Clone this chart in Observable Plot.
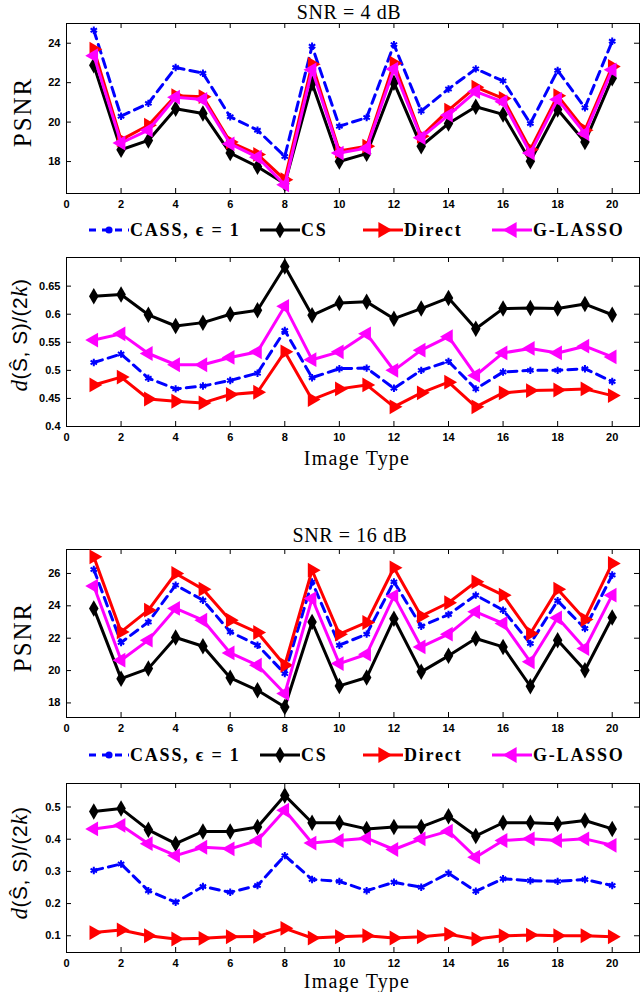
<!DOCTYPE html>
<html><head><meta charset="utf-8">
<script src="https://cdn.jsdelivr.net/npm/d3@7"></script>
<script src="https://cdn.jsdelivr.net/npm/@observablehq/plot@0.6"></script>
<style>
body{margin:0;background:#fff;}
#root{position:relative;width:640px;height:992px;overflow:hidden;}
.abs{position:absolute;white-space:nowrap;line-height:1;}
.title{font-family:"Liberation Serif",serif;font-size:20px;transform:translate(-50%,-50%);letter-spacing:0.6px;}
.xlab{font-family:"Liberation Serif",serif;font-size:20px;transform:translate(-50%,-50%);letter-spacing:1.2px;}
.ylab{font-family:"Liberation Serif",serif;font-size:25px;transform:translate(-50%,-50%) rotate(-90deg);letter-spacing:2px;}
.dlab{font-family:"Liberation Sans",sans-serif;font-size:21px;transform:translate(-50%,-50%) rotate(-90deg);letter-spacing:0.5px;}
.dlab i{font-family:"Liberation Serif",serif;font-size:23px;}
.leg{display:flex;align-items:center;font-family:"Liberation Serif",serif;font-weight:bold;font-size:18px;letter-spacing:1.8px;transform:translateY(-50%);}
.leg svg{display:block;}
</style></head><body><div id="root"></div>
<script>
// ---------- data ----------
const imageType = [1,2,3,4,5,6,7,8,9,10,11,12,13,14,15,16,17,18,19,20];
const xTicks = [0,2,4,6,8,10,12,14,16,18,20];

// SNR = 4 dB, PSNR
const psnr4_cass   = [24.66,20.3,20.95,22.77,22.48,20.27,19.59,18.26,23.85,19.79,20.23,23.93,20.56,21.68,22.7,22.09,19.93,22.62,20.73,24.1];
const psnr4_cs     = [22.88,18.6,19.07,20.68,20.44,18.43,17.74,16.87,21.97,18.0,18.4,22.0,18.78,19.93,20.78,20.39,18.02,20.64,18.99,22.23];
const psnr4_direct = [23.7,19.1,19.84,21.34,21.29,18.99,18.36,17.08,22.94,18.53,18.78,22.99,19.28,20.61,21.77,21.2,18.61,21.34,19.59,22.82];
const psnr4_glasso = [23.37,18.94,19.59,21.26,21.15,18.9,18.22,16.82,22.65,18.43,18.68,22.69,19.21,20.35,21.55,21.03,18.43,21.15,19.42,22.65];
const psnr4_yTicks = [18,20,22,24];

// SNR = 4 dB, d(S^,S)/(2k)
const d4_cass   = [0.514,0.529,0.486,0.467,0.472,0.482,0.495,0.571,0.487,0.503,0.504,0.468,0.5,0.516,0.467,0.497,0.5,0.5,0.503,0.48];
const d4_cs     = [0.632,0.635,0.599,0.579,0.585,0.6,0.607,0.685,0.598,0.62,0.622,0.592,0.61,0.629,0.574,0.61,0.611,0.61,0.618,0.599];
const d4_direct = [0.474,0.488,0.449,0.445,0.442,0.457,0.461,0.533,0.448,0.467,0.474,0.435,0.46,0.479,0.435,0.46,0.464,0.465,0.467,0.455];
const d4_glasso = [0.554,0.565,0.53,0.51,0.51,0.523,0.533,0.614,0.519,0.533,0.565,0.5,0.536,0.56,0.491,0.531,0.539,0.531,0.543,0.524];
const d4_yTicks = [0.4,0.45,0.5,0.55,0.6,0.65];

// SNR = 16 dB, PSNR
const psnr16_cass   = [26.25,21.73,23.0,25.28,24.35,22.39,21.57,19.81,25.48,21.57,22.25,25.48,22.74,23.46,24.66,23.73,21.67,24.31,22.6,25.9];
const psnr16_cs     = [23.84,19.5,20.12,22.04,21.5,19.55,18.78,17.75,23.0,19.05,19.57,23.2,19.92,20.91,21.98,21.46,19.03,21.88,20.02,23.28];
const psnr16_direct = [27.03,22.39,23.73,26.0,25.03,23.11,22.35,20.33,26.2,22.25,22.97,26.35,23.36,24.19,25.48,24.66,22.29,25.03,23.15,26.62];
const psnr16_glasso = [25.22,20.64,21.88,23.84,23.11,21.09,20.33,18.58,24.45,20.43,21.01,24.6,21.46,22.25,23.63,22.91,20.54,23.26,21.36,24.66];
const psnr16_yTicks = [18,20,22,24,26];

// SNR = 16 dB, d(S^,S)/(2k)
const d16_cass   = [0.303,0.323,0.24,0.204,0.253,0.235,0.256,0.349,0.275,0.269,0.24,0.266,0.251,0.294,0.238,0.277,0.271,0.269,0.275,0.256];
const d16_cs     = [0.486,0.495,0.429,0.386,0.424,0.424,0.438,0.536,0.451,0.451,0.432,0.438,0.438,0.471,0.41,0.451,0.451,0.448,0.458,0.432];
const d16_direct = [0.11,0.118,0.1,0.09,0.092,0.097,0.098,0.123,0.093,0.097,0.1,0.093,0.097,0.105,0.09,0.1,0.102,0.1,0.1,0.097];
const d16_glasso = [0.432,0.443,0.386,0.349,0.375,0.37,0.396,0.49,0.388,0.396,0.403,0.368,0.401,0.425,0.344,0.396,0.401,0.396,0.401,0.381];
const d16_yTicks = [0.1,0.2,0.3,0.4,0.5];

const seriesNames = ["CASS, \u03f5 = 1","CS","Direct","G-LASSO"];
const seriesColors = ["#0000ff","#000000","#ff0000","#ff00ff"];

// ---------- drawing ----------
const root = document.getElementById("root");
const W = 640, mL = 66, mR = 1;

function series(vals){ return imageType.map((x,i)=>({x, y: vals[i]})); }

function panel(top, frameTop, frameBottom, yDomain, yTicks, data){
  const mT = frameTop - top, H = frameBottom - frameTop, mB = 18;
  const FW = W - mL - mR;
  const [cass, cs, direct, glasso] = data.map(series);
  const chart = Plot.plot({
    width: W, height: mT + H + mB,
    marginTop: mT, marginBottom: mB, marginLeft: mL, marginRight: mR,
    style: {fontFamily: "Liberation Sans, Arial, sans-serif", fontSize: "11px", fontWeight: "bold", color: "#000", background: "transparent", overflow: "visible"},
    x: {domain: [0,21], ticks: xTicks, tickSize: 0, tickPadding: 7, tickFormat: d => String(d), label: null},
    y: {domain: yDomain, ticks: yTicks, tickSize: 0, tickPadding: 6, tickFormat: d => String(d), label: null},
    marks: [
      Plot.tickX(xTicks, {x: d => d, insetTop: H - 5, stroke: "#000", strokeWidth: 1}),
      Plot.tickX(xTicks, {x: d => d, insetBottom: H - 5, stroke: "#000", strokeWidth: 1}),
      Plot.tickY(yTicks, {y: d => d, insetRight: FW - 5, stroke: "#000", strokeWidth: 1}),
      Plot.tickY(yTicks, {y: d => d, insetLeft: FW - 5, stroke: "#000", strokeWidth: 1}),
      Plot.frame({stroke: "#000", strokeWidth: 1}),
      Plot.line(cass, {x: "x", y: "y", stroke: seriesColors[0], strokeWidth: 3, strokeDasharray: "9,6"}),
      Plot.dot(cass, {x: "x", y: "y", symbol: "asterisk", stroke: seriesColors[0], strokeWidth: 2, r: 3.5}),
      Plot.line(cs, {x: "x", y: "y", stroke: seriesColors[1], strokeWidth: 3}),
      Plot.dot(cs, {x: "x", y: "y", symbol: "diamond", fill: seriesColors[1], r: 5}),
      Plot.line(direct, {x: "x", y: "y", stroke: seriesColors[2], strokeWidth: 3}),
      Plot.dot(direct, {x: "x", y: "y", symbol: "triangle", rotate: 90, fill: seriesColors[2], r: 5.5}),
      Plot.line(glasso, {x: "x", y: "y", stroke: seriesColors[3], strokeWidth: 3}),
      Plot.dot(glasso, {x: "x", y: "y", symbol: "triangle", rotate: -90, fill: seriesColors[3], r: 5.5})
    ]
  });
  chart.style.position = "absolute";
  chart.style.left = "0px";
  chart.style.top = top + "px";
  root.appendChild(chart);
}

function text(cls, html, x, y){
  const d = document.createElement("div");
  d.className = "abs " + cls;
  d.innerHTML = html;
  d.style.left = x + "px";
  d.style.top = y + "px";
  root.appendChild(d);
  return d;
}

function legend(yc){
  const starts = [88, 259, 362, 491];
  const symbols = [d3.symbolCircle, d3.symbolDiamond, d3.symbolTriangle, d3.symbolTriangle];
  const rot = [0, 0, 90, -90];
  const sizes = [40, 80, 110, 110];
  seriesNames.forEach((name, i) => {
    const div = document.createElement("div");
    div.className = "abs leg";
    div.style.left = starts[i] + "px";
    div.style.top = yc + "px";
    const svg = d3.create("svg").attr("width", 42).attr("height", 16);
    svg.append("line").attr("x1", 1).attr("x2", 41).attr("y1", 8).attr("y2", 8)
      .attr("stroke", seriesColors[i]).attr("stroke-width", 3)
      .attr("stroke-dasharray", i === 0 ? "7,6" : null);
    svg.append("path").attr("d", d3.symbol(symbols[i], sizes[i])())
      .attr("transform", `translate(21,8) rotate(${rot[i]})`)
      .attr("fill", seriesColors[i]);
    div.appendChild(svg.node());
    const t = document.createElement("span");
    t.textContent = name;
    div.appendChild(t);
    root.appendChild(div);
  });
}

const dLabel = '<i>d</i>(<span>\u015C</span>, <span>S</span>)/(2<i>k</i>)';

// Top block: SNR = 4 dB
text("title", "SNR = 4 dB", 349, 12);
panel(10, 23, 193, [16.38, 25.0], psnr4_yTicks, [psnr4_cass, psnr4_cs, psnr4_direct, psnr4_glasso]);
text("ylab", "PSNR", 22, 112);
legend(230);
panel(247, 257, 426, [0.4, 0.701], d4_yTicks, [d4_cass, d4_cs, d4_direct, d4_glasso]);
text("dlab", dLabel, 19, 335);
text("xlab", "Image Type", 357, 458);

// Bottom block: SNR = 16 dB
text("title", "SNR = 16 dB", 350, 535);
panel(539, 549, 717, [17.1, 27.48], psnr16_yTicks, [psnr16_cass, psnr16_cs, psnr16_direct, psnr16_glasso]);
text("ylab", "PSNR", 22, 637);
legend(755);
panel(773, 783, 952, [0.048, 0.573], d16_yTicks, [d16_cass, d16_cs, d16_direct, d16_glasso]);
text("dlab", dLabel, 19, 863);
text("xlab", "Image Type", 357, 981);
</script>
</body></html>
